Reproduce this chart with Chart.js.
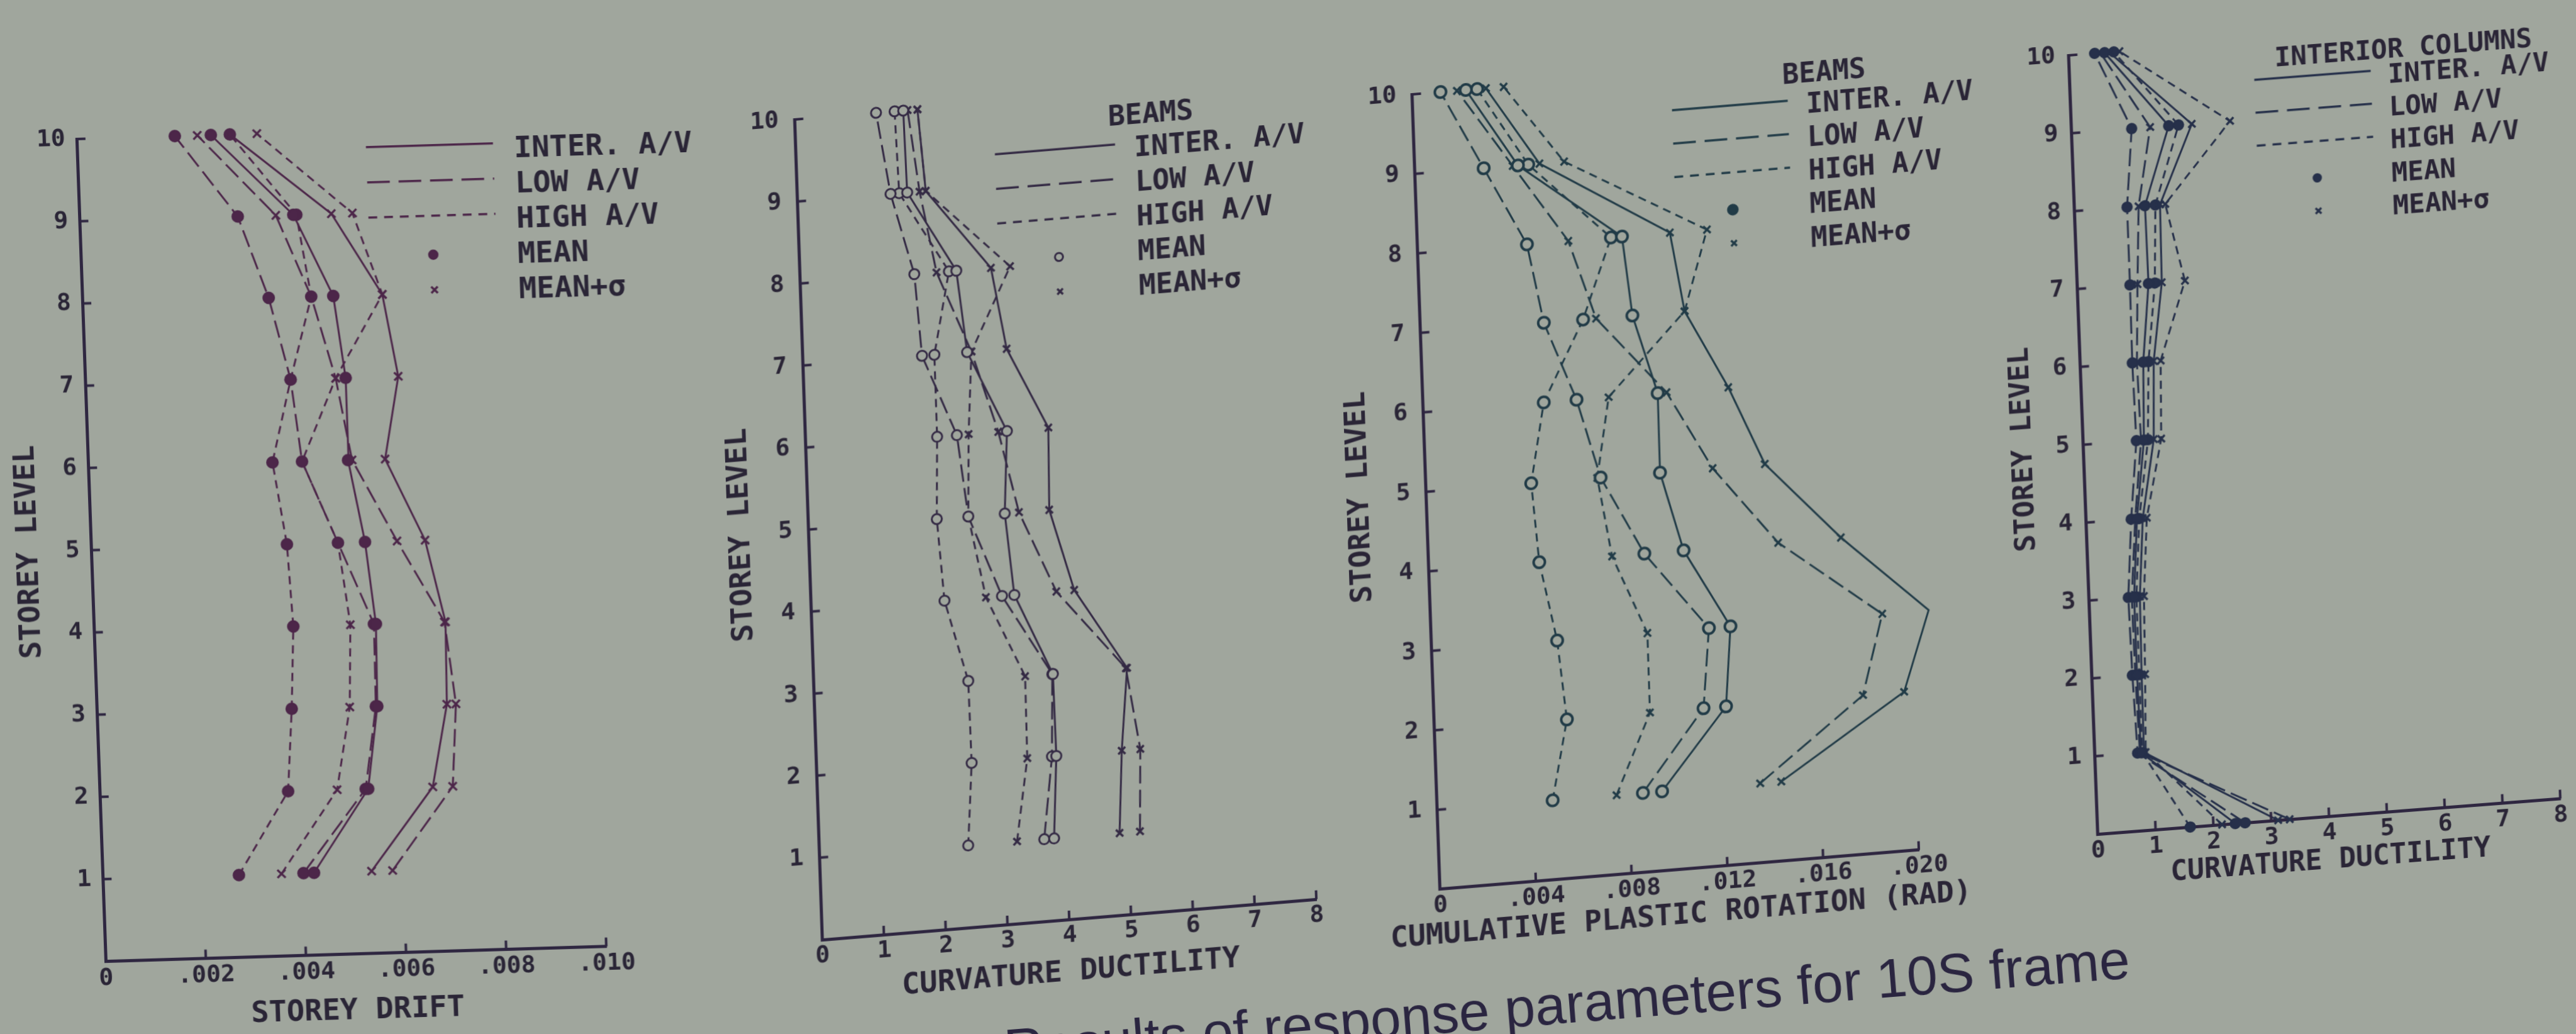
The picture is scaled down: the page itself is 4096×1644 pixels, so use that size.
<!DOCTYPE html>
<html>
<head>
<meta charset="utf-8">
<script src="https://cdn.jsdelivr.net/npm/chart.js@4.4.1/dist/chart.umd.min.js"></script>
<style>
html,body{margin:0;padding:0;width:4096px;height:1644px;overflow:hidden;background:#a0a69d;}
canvas{position:absolute;}
#caption{position:absolute;left:0;top:0;white-space:nowrap;font-family:"Liberation Sans",Arial,sans-serif;font-size:87.5px;line-height:1;color:#2a2540;transform-origin:0 0;transform:translate(1593.6px,1625px) rotate(-4.57deg);}
</style>
</head>
<body>
<canvas id="c1"></canvas>
<canvas id="c2"></canvas>
<canvas id="c3"></canvas>
<canvas id="c4"></canvas>
<div id="caption">Results of response parameters for 10S frame</div>
<script>
// ---------------- DATA ----------------
const STOREYS = [1, 2, 3, 4, 5, 6, 7, 8, 9, 10];
const STOREYS_COL = [0, 1, 2, 3, 4, 5, 6, 7, 8, 9, 10];
const Y_TICKS = ['', '1', '2', '3', '4', '5', '6', '7', '8', '9', '10'];
const LEGEND_LABELS = ['INTER. A/V', 'LOW A/V', 'HIGH A/V', 'MEAN', 'MEAN+σ'];
const Y_TITLE = 'STOREY LEVEL';

// Panel 1 : storey drift
const P1_X_TITLE = 'STOREY DRIFT';
const P1_X_TICKS = ['0', '.002', '.004', '.006', '.008', '.010'];
const P1_INTER_MEAN = [0.00422, 0.00536, 0.00560, 0.00563, 0.00547, 0.00519, 0.00520, 0.00501, 0.00427, 0.00268];
const P1_INTER_SIG  = [0.00537, 0.00665, 0.00699, 0.00702, 0.00667, 0.00593, 0.00625, 0.00599, 0.00503, 0.00306];
const P1_LOW_MEAN   = [0.00401, 0.00531, 0.00557, 0.00559, 0.00493, 0.00427, 0.00410, 0.00372, 0.00316, 0.00196];
const P1_LOW_SIG    = [0.00579, 0.00705, 0.00717, 0.00700, 0.00611, 0.00527, 0.00500, 0.00457, 0.00392, 0.00241];
const P1_HIGH_MEAN  = [0.00272, 0.00376, 0.00389, 0.00398, 0.00391, 0.00368, 0.00410, 0.00457, 0.00433, 0.00306];
const P1_HIGH_SIG   = [0.00357, 0.00474, 0.00505, 0.00512, 0.00493, 0.00427, 0.00500, 0.00599, 0.00545, 0.00360];

// Panel 2 : beams, curvature ductility
const P2_LEGEND_TITLE = 'BEAMS';
const P2_X_TITLE = 'CURVATURE DUCTILITY';
const P2_X_TICKS = ['0', '1', '2', '3', '4', '5', '6', '7', '8'];
const P2_INTER_MEAN = [3.80, 3.88, 3.87, 3.29, 3.18, 3.26, 2.66, 2.53, 1.78, 1.76];
const P2_INTER_SIG  = [4.86, 4.94, 5.07, 4.26, 3.90, 3.93, 3.30, 3.09, 2.08, 1.99];
const P2_LOW_MEAN   = [3.64, 3.81, 3.86, 3.09, 2.59, 2.45, 1.93, 1.85, 1.51, 1.32];
const P2_LOW_SIG    = [5.19, 5.24, 5.05, 3.97, 3.41, 3.12, 2.73, 2.21, 1.98, 1.83];
const P2_HIGH_MEAN  = [2.41, 2.51, 2.50, 2.16, 2.08, 2.13, 2.13, 2.41, 1.65, 1.62];
const P2_HIGH_SIG   = [3.20, 3.41, 3.42, 2.83, 2.59, 2.64, 2.73, 3.40, 2.08, 1.99];

// Panel 3 : beams, cumulative plastic rotation
const P3_LEGEND_TITLE = 'BEAMS';
const P3_X_TITLE = 'CUMULATIVE PLASTIC ROTATION (RAD)';
const P3_X_TICKS = ['0', '.004', '.008', '.012', '.016', '.020'];
const P3_INTER_MEAN = [0.00939, 0.01218, 0.01248, 0.01064, 0.00977, 0.00979, 0.00885, 0.00853, 0.00430, 0.00224];
const P3_INTER_SIG  = [0.01437, 0.01962, 0.02076, 0.01721, 0.01415, 0.01274, 0.01103, 0.01053, 0.00520, 0.00308];
const P3_LOW_MEAN   = [0.00859, 0.01124, 0.01158, 0.00900, 0.00729, 0.00640, 0.00515, 0.00456, 0.00287, 0.00118];
const P3_LOW_SIG    = [0.01349, 0.01790, 0.01882, 0.01459, 0.01197, 0.01016, 0.00733, 0.00629, 0.00408, 0.00187];
const P3_HIGH_MEAN  = [0.00482, 0.00553, 0.00524, 0.00461, 0.00439, 0.00503, 0.00679, 0.00807, 0.00473, 0.00271];
const P3_HIGH_SIG   = [0.00749, 0.00900, 0.00901, 0.00765, 0.00715, 0.00774, 0.01103, 0.01208, 0.00623, 0.00382];

// Panel 4 : interior columns, curvature ductility (storeys 0..10)
const P4_LEGEND_TITLE = 'INTERIOR COLUMNS';
const P4_X_TITLE = 'CURVATURE DUCTILITY';
const P4_X_TICKS = ['0', '1', '2', '3', '4', '5', '6', '7', '8'];
const P4_INTER_MEAN = [2.38, 0.80, 0.78, 0.78, 0.88, 1.05, 1.09, 1.23, 1.22, 1.68, 0.62];
const P4_INTER_SIG  = [3.12, 0.85, 0.86, 0.88, 0.98, 1.22, 1.27, 1.46, 1.48, 2.08, 0.70];
const P4_LOW_MEAN   = [2.55, 0.74, 0.70, 0.68, 0.78, 0.92, 0.90, 0.91, 0.91, 1.04, 0.45];
const P4_LOW_SIG    = [3.32, 0.78, 0.75, 0.74, 0.85, 1.00, 0.98, 1.04, 1.11, 1.36, 0.55];
const P4_HIGH_MEAN  = [1.60, 0.82, 0.82, 0.82, 0.92, 1.12, 1.18, 1.34, 1.40, 1.85, 0.78];
const P4_HIGH_SIG   = [2.15, 0.88, 0.92, 0.95, 1.05, 1.35, 1.39, 1.86, 1.57, 2.74, 0.88];

// ---------------- STYLE / LAYOUT ----------------
const BG = '#a0a69d';
const TEXT_INK = '#2a2536';
const AXIS_INK = '#2e2640';
const MONO = '"DejaVu Sans Mono", monospace';
const PAD_L = 10, PAD_T = 30;
const TICK_LEN = 14;
const PLOT_DASH = {INTER: [], LOW: [28, 10], HIGH: [13, 9]};
const LEG_DASH = [[], [36, 14], [14, 11]];

const PANELS = [
  {id: 'c1', ink: '#4c2649', ox: 167.6, oy: 1528, w: 795.5, h: 1314.1, tx: 0.030, ty: 0.0353,
   yw: 122, xh: 114.5, padR: 200, padB: 0, yTickPad: 18, xTickPad: 9, titleSize: 47, yTitleSize: 47,
   xmax: 0.010, xstep: 0.002, xticks: P1_X_TICKS, xtitle: P1_X_TITLE, titleInChart: true,
   mean: {r: 9, fill: 'ink', bw: 2}, sig: {r: 9, bw: 3.5}, levels: STOREYS,
   series: {INTER: [P1_INTER_MEAN, P1_INTER_SIG], LOW: [P1_LOW_MEAN, P1_LOW_SIG], HIGH: [P1_HIGH_MEAN, P1_HIGH_SIG]},
   legend: {font: 47, title: null, y0: 32.7, dy: 56, lineX: 459, lineLen: 202, textX: 694, markX: 560}},
  {id: 'c2', ink: '#342a44', ox: 1307.5, oy: 1493.8, w: 785.6, h: 1317.6, tx: 0.082, ty: 0.0337,
   yw: 130.2, xh: 108, padR: 70, padB: 20, yTickPad: 25, xTickPad: 7, titleSize: 47, yTitleSize: 47,
   xmax: 8, xstep: 1, xticks: P2_X_TICKS, xtitle: P2_X_TITLE, titleInChart: true,
   mean: {r: 8, fill: 'bg', bw: 3}, sig: {r: 8, bw: 3.5}, levels: STOREYS,
   series: {INTER: [P2_INTER_MEAN, P2_INTER_SIG], LOW: [P2_LOW_MEAN, P2_LOW_SIG], HIGH: [P2_HIGH_MEAN, P2_HIGH_SIG]},
   legend: {font: 45, title: P2_LEGEND_TITLE, titleX: 565, titleY: 34.6, y0: 87.3, dy: 55, lineX: 316, lineLen: 191, textX: 537, markX: 412}},
  {id: 'c3', ink: '#213b47', ox: 2289.9, oy: 1413.5, w: 760.9, h: 1277.4, tx: 0.082, ty: 0.0351,
   yw: 127.8, xh: 97.1, padR: 160, padB: 20, yTickPad: 25, xTickPad: 7, titleSize: 46.5, yTitleSize: 46.5, xTitleOff: 73.8,
   xmax: 0.020, xstep: 0.004, xticks: P3_X_TICKS, xtitle: P3_X_TITLE, titleInChart: false,
   mean: {r: 9, fill: 'bg', bw: 4}, sig: {r: 8, bw: 3.5}, levels: STOREYS,
   series: {INTER: [P3_INTER_MEAN, P3_INTER_SIG], LOW: [P3_LOW_MEAN, P3_LOW_SIG], HIGH: [P3_HIGH_MEAN, P3_HIGH_SIG]},
   legend: {font: 44, title: P3_LEGEND_TITLE, titleX: 654, titleY: 16.1, y0: 64.9, dy: 53.2, lineX: 411, lineLen: 184, textX: 624, markX: 502, markFill: 'ink'}},
  {id: 'c4', ink: '#26304a', ox: 3335.5, oy: 1326.1, w: 735.5, h: 1248.5, tx: 0.077, ty: 0.0374,
   yw: 116.5, xh: 93.8, padR: 26, padB: 20, yTickPad: 21, xTickPad: 8, titleSize: 44.5, yTitleSize: 45,
   xmax: 8, xstep: 1, xticks: P4_X_TICKS, xtitle: P4_X_TITLE, titleInChart: true,
   mean: {r: 8, fill: 'ink', bw: 2}, sig: {r: 8, bw: 3.5}, levels: STOREYS_COL,
   series: {INTER: [P4_INTER_MEAN, P4_INTER_SIG], LOW: [P4_LOW_MEAN, P4_LOW_SIG], HIGH: [P4_HIGH_MEAN, P4_HIGH_SIG]},
   legend: {font: 42.5, title: P4_LEGEND_TITLE, titleX: 531, titleY: 28, y0: 67.4, dy: 52.4, lineX: 293, lineLen: 185, textX: 505, markX: 387}}
];

function points(levels, vals) {
  return vals.map((v, i) => ({x: v, y: levels[i]}));
}

function drawCircle(ctx, x, y, r, fill, stroke, bw) {
  ctx.save();
  ctx.setLineDash([]);
  ctx.beginPath();
  ctx.arc(x, y, r, 0, Math.PI * 2);
  ctx.fillStyle = fill; ctx.fill();
  ctx.lineWidth = bw; ctx.strokeStyle = stroke; ctx.stroke();
  ctx.restore();
}
function drawCross(ctx, x, y, r, stroke, bw) {
  const d = r * Math.SQRT1_2;
  ctx.save();
  ctx.setLineDash([]);
  ctx.lineWidth = bw; ctx.strokeStyle = stroke;
  ctx.beginPath();
  ctx.moveTo(x - d, y - d); ctx.lineTo(x + d, y + d);
  ctx.moveTo(x - d, y + d); ctx.lineTo(x + d, y - d);
  ctx.stroke();
  ctx.restore();
}

function framePlugin(P) {
  return {
    id: 'frame_' + P.id,
    afterDraw(chart) {
      const ctx = chart.ctx, a = chart.chartArea;
      const xs = chart.scales.x, ys = chart.scales.y;
      ctx.save();
      // inward tick marks
      ctx.strokeStyle = AXIS_INK; ctx.lineWidth = 4; ctx.setLineDash([]);
      xs.ticks.forEach(t => {
        if (t.value === 0) return;
        const px = xs.getPixelForValue(t.value);
        ctx.beginPath(); ctx.moveTo(px, a.bottom); ctx.lineTo(px, a.bottom - TICK_LEN); ctx.stroke();
      });
      ys.ticks.forEach(t => {
        if (t.value === 0) return;
        const py = ys.getPixelForValue(t.value);
        ctx.beginPath(); ctx.moveTo(a.left, py); ctx.lineTo(a.left + TICK_LEN, py); ctx.stroke();
      });
      // x title drawn here when wider than the axis
      if (!P.titleInChart) {
        ctx.font = 'bold ' + P.titleSize + 'px ' + MONO;
        ctx.fillStyle = TEXT_INK; ctx.textAlign = 'center'; ctx.textBaseline = 'middle';
        ctx.fillText(P.xtitle, (a.left + a.right) / 2, a.bottom + P.xTitleOff);
      }
      // legend
      const L = P.legend;
      const fs = L.font;
      ctx.font = 'bold ' + fs + 'px ' + MONO;
      ctx.fillStyle = TEXT_INK; ctx.textBaseline = 'middle';
      if (L.title) {
        ctx.textAlign = 'center';
        ctx.fillText(L.title, a.left + L.titleX, a.top + L.titleY + 0.1 * fs);
      }
      ctx.textAlign = 'left';
      LEGEND_LABELS.forEach((lab, i) => {
        ctx.fillText(lab, a.left + L.textX, a.top + L.y0 + i * L.dy + 0.1 * fs);
      });
      LEG_DASH.forEach((d, i) => {
        const y = a.top + L.y0 + i * L.dy - 6;
        ctx.setLineDash(d); ctx.lineWidth = 3.5; ctx.strokeStyle = P.ink;
        ctx.beginPath(); ctx.moveTo(a.left + L.lineX, y); ctx.lineTo(a.left + L.lineX + L.lineLen, y); ctx.stroke();
      });
      ctx.setLineDash([]);
      const mfill = (L.markFill || P.mean.fill) === 'ink' ? P.ink : BG;
      drawCircle(ctx, a.left + L.markX, a.top + L.y0 + 3 * L.dy, P.mean.r * 0.8, mfill, P.ink, P.mean.bw);
      drawCross(ctx, a.left + L.markX, a.top + L.y0 + 4 * L.dy, P.sig.r * 0.8, P.ink, P.sig.bw);
      ctx.restore();
    }
  };
}

function build(P) {
  const canvas = document.getElementById(P.id);
  const cw = Math.round(PAD_L + P.yw + P.w + P.padR);
  const ch = Math.round(PAD_T + P.h + P.xh + P.padB);
  canvas.width = cw; canvas.height = ch;
  canvas.style.width = cw + 'px'; canvas.style.height = ch + 'px';
  const areaLeft = PAD_L + P.yw;
  const areaBottom = PAD_T + P.h;
  canvas.style.left = (P.ox - areaLeft) + 'px';
  canvas.style.top = (P.oy - areaBottom) + 'px';
  canvas.style.transformOrigin = areaLeft + 'px ' + areaBottom + 'px';
  canvas.style.transform = 'matrix(1,' + (-P.tx) + ',' + P.ty + ',1,0,0)';

  const datasets = [];
  ['INTER', 'LOW', 'HIGH'].forEach(k => {
    const [meanVals, sigVals] = P.series[k];
    datasets.push({
      label: k + ' MEAN', data: points(P.levels, meanVals), showLine: true, clip: false,
      borderColor: P.ink, borderWidth: 3, borderDash: PLOT_DASH[k], tension: 0, fill: false,
      pointStyle: 'circle', pointRadius: P.mean.r, pointHoverRadius: P.mean.r,
      pointBorderWidth: P.mean.bw, pointBorderColor: P.ink,
      pointBackgroundColor: P.mean.fill === 'ink' ? P.ink : BG
    });
    datasets.push({
      label: k + ' MEAN+σ', data: points(P.levels, sigVals), showLine: true, clip: false,
      borderColor: P.ink, borderWidth: 3, borderDash: PLOT_DASH[k], tension: 0, fill: false,
      pointStyle: 'crossRot', pointRadius: P.sig.r, pointHoverRadius: P.sig.r,
      pointBorderWidth: P.sig.bw, pointBorderColor: P.ink, pointBackgroundColor: P.ink
    });
  });

  new Chart(canvas, {
    type: 'scatter',
    data: {datasets},
    options: {
      responsive: false, animation: false, devicePixelRatio: 1,
      events: [],
      layout: {padding: {left: PAD_L, right: P.padR, top: PAD_T, bottom: P.padB}},
      plugins: {legend: {display: false}, tooltip: {enabled: false}, title: {display: false}},
      scales: {
        x: {
          type: 'linear', position: 'bottom', min: 0, max: P.xmax,
          ticks: {stepSize: P.xstep, padding: P.xTickPad, color: TEXT_INK, autoSkip: false,
                  maxRotation: 0, minRotation: 0,
                  font: {family: MONO, size: 38, weight: 'bold', lineHeight: 1},
                  callback: (v, i) => P.xticks[i]},
          grid: {display: true, drawOnChartArea: false, drawTicks: false, color: 'rgba(0,0,0,0)'},
          border: {display: true, color: AXIS_INK, width: 5},
          title: {display: P.titleInChart, text: P.xtitle, color: TEXT_INK, padding: 0,
                  font: {family: MONO, size: P.titleSize, weight: 'bold', lineHeight: 1}},
          afterFit: s => { s.height = P.xh; }
        },
        y: {
          type: 'linear', position: 'left', min: 0, max: 10,
          ticks: {stepSize: 1, padding: P.yTickPad, color: TEXT_INK, autoSkip: false,
                  font: {family: MONO, size: 38, weight: 'bold', lineHeight: 1},
                  callback: (v, i) => Y_TICKS[i]},
          grid: {display: true, drawOnChartArea: false, drawTicks: false, color: 'rgba(0,0,0,0)'},
          border: {display: true, color: AXIS_INK, width: 5},
          title: {display: true, text: Y_TITLE, color: TEXT_INK, padding: 0,
                  font: {family: MONO, size: P.yTitleSize, weight: 'bold', lineHeight: 1}},
          afterFit: s => { s.width = P.yw; }
        }
      }
    },
    plugins: [framePlugin(P)]
  });
}

PANELS.forEach(build);
</script>
</body>
</html>
